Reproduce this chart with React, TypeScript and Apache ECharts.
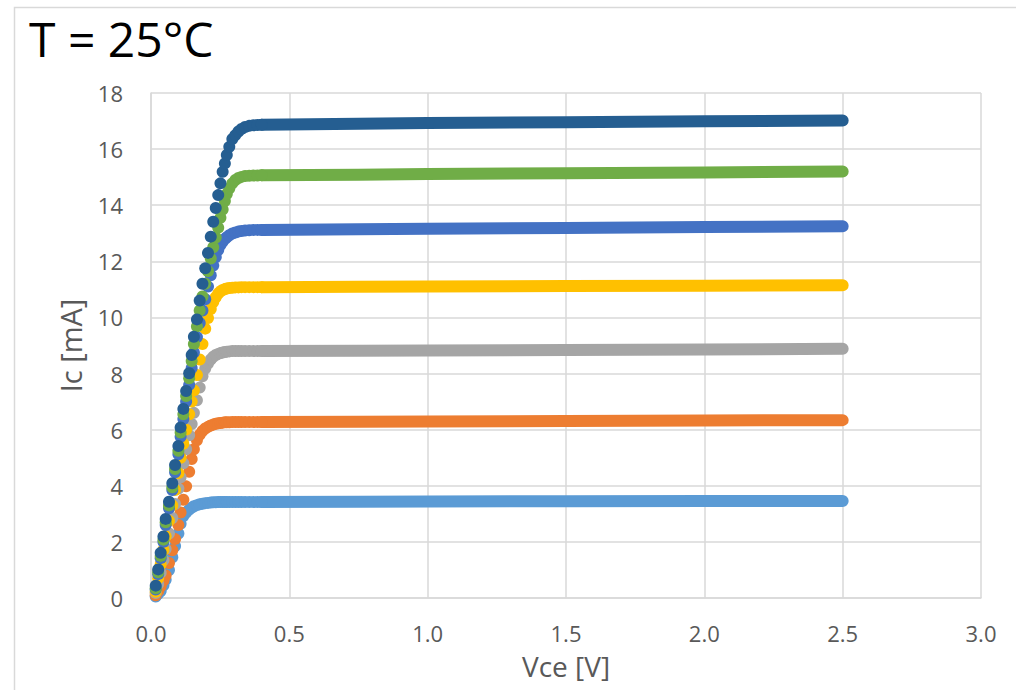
import React, { useEffect, useRef } from "react";
import * as echarts from "echarts";

// Collector-emitter sweep points in the saturation/knee region (V)
const VCE_RISE = [
  0.017, 0.026, 0.035, 0.045, 0.053, 0.065, 0.077, 0.087, 0.099, 0.107,
  0.117, 0.127, 0.138, 0.147, 0.155, 0.166, 0.176, 0.186, 0.196, 0.206,
  0.216, 0.225, 0.234, 0.243, 0.251, 0.259, 0.267, 0.274, 0.283, 0.294,
  0.305, 0.316, 0.327, 0.34, 0.355, 0.37, 0.385, 0.4,
];

// Collector current (mA) at each VCE_RISE point, one array per base-current step
const IC_RISE_1 = [
  0.05, 0.15, 0.25, 0.45, 0.65, 1.0, 1.45, 1.85, 2.3, 2.65,
  2.92, 3.05, 3.15, 3.22, 3.27, 3.31, 3.34, 3.36, 3.38, 3.39,
  3.4, 3.41, 3.41, 3.42, 3.42, 3.42, 3.42, 3.42, 3.42, 3.42,
  3.42, 3.42, 3.42, 3.42, 3.42, 3.42, 3.42, 3.42,
];
const IC_RISE_2 = [
  0.1, 0.25, 0.42, 0.62, 0.8, 1.25, 1.7, 2.1, 2.6, 3.05,
  3.5, 3.98, 4.5, 4.95, 5.3, 5.62, 5.82, 5.95, 6.04, 6.1,
  6.15, 6.18, 6.21, 6.23, 6.24, 6.25, 6.26, 6.26, 6.26, 6.27,
  6.27, 6.27, 6.27, 6.27, 6.27, 6.27, 6.27, 6.27,
];
const IC_RISE_3 = [
  0.18, 0.5, 0.9, 1.35, 1.75, 2.3, 2.85, 3.35, 3.9, 4.3,
  4.8, 5.3, 5.8, 6.2, 6.6, 7.05, 7.5, 7.9, 8.18, 8.36,
  8.5, 8.6, 8.66, 8.7, 8.73, 8.75, 8.77, 8.78, 8.79, 8.8,
  8.8, 8.8, 8.8, 8.8, 8.8, 8.8, 8.8, 8.8,
];
const IC_RISE_4 = [
  0.22, 0.7, 1.2, 1.72, 2.2, 2.75, 3.3, 3.85, 4.45, 5.0,
  5.5, 6.0, 6.55, 7.0, 7.4, 7.95, 8.5, 9.05, 9.6, 9.98,
  10.3, 10.55, 10.72, 10.85, 10.93, 10.98, 11.01, 11.03, 11.05, 11.06,
  11.07, 11.07, 11.08, 11.08, 11.08, 11.08, 11.08, 11.08,
];
const IC_RISE_5 = [
  0.3, 0.85, 1.42, 2.0, 2.6, 3.2, 3.85, 4.48, 5.12, 5.75,
  6.38, 7.0, 7.6, 8.2, 8.75, 9.3, 9.8, 10.25, 10.65, 11.1,
  11.5, 11.85, 12.15, 12.4, 12.58, 12.7, 12.8, 12.86, 12.93, 12.99,
  13.03, 13.06, 13.08, 13.1, 13.11, 13.12, 13.12, 13.12,
];
const IC_RISE_6 = [
  0.35, 0.92, 1.5, 2.08, 2.7, 3.3, 3.95, 4.6, 5.25, 5.9,
  6.55, 7.2, 7.83, 8.45, 9.05, 9.68, 10.25, 10.75, 11.2, 11.65,
  12.1, 12.5, 12.85, 13.2, 13.55, 13.85, 14.15, 14.4, 14.6, 14.78,
  14.9, 14.97, 15.01, 15.04, 15.05, 15.06, 15.06, 15.07,
];
const IC_RISE_7 = [
  0.44, 1.02, 1.61, 2.19, 2.82, 3.43, 4.09, 4.74, 5.42, 6.08,
  6.74, 7.38, 8.01, 8.66, 9.31, 9.93, 10.6, 11.2, 11.75, 12.3,
  12.88, 13.41, 13.9, 14.36, 14.78, 15.19, 15.49, 15.79, 16.08, 16.36,
  16.5, 16.63, 16.72, 16.79, 16.83, 16.85, 16.86, 16.87,
];

// Active region (V) and the matching collector currents (mA)
const VCE_FLAT = [0.4, 0.75, 1.0, 1.5, 2.0, 2.5];
const IC_FLAT_1 = [3.42, 3.43, 3.44, 3.45, 3.46, 3.46];
const IC_FLAT_2 = [6.27, 6.28, 6.29, 6.31, 6.33, 6.34];
const IC_FLAT_3 = [8.8, 8.81, 8.82, 8.84, 8.86, 8.88];
const IC_FLAT_4 = [11.08, 11.09, 11.1, 11.12, 11.13, 11.15];
const IC_FLAT_5 = [13.12, 13.14, 13.16, 13.19, 13.22, 13.25];
const IC_FLAT_6 = [15.07, 15.09, 15.11, 15.14, 15.17, 15.2];
const IC_FLAT_7 = [16.87, 16.9, 16.93, 16.96, 16.99, 17.02];

const CURVE_COLORS = ["#5B9BD5", "#ED7D31", "#A5A5A5", "#FFC000", "#4472C4", "#70AD47", "#255E91"];
const RISE = [IC_RISE_1, IC_RISE_2, IC_RISE_3, IC_RISE_4, IC_RISE_5, IC_RISE_6, IC_RISE_7];
const FLAT = [IC_FLAT_1, IC_FLAT_2, IC_FLAT_3, IC_FLAT_4, IC_FLAT_5, IC_FLAT_6, IC_FLAT_7];

const X_TICKS = { min: 0, max: 3, interval: 0.5 };
const Y_TICKS = { min: 0, max: 18, interval: 2 };

const TITLE = "T = 25°C";
const X_NAME = "Vce [V]";
const Y_NAME = "Ic [mA]";

const FONT = "'Open Sans', 'Noto Sans', sans-serif";
const DOT = 12;

export default function App() {
  const ref = useRef<HTMLDivElement>(null);

  useEffect(() => {
    if (!ref.current) return;
    const chart = echarts.init(ref.current, null, { renderer: "svg" });

    const series: any[] = [];
    CURVE_COLORS.forEach((color, i) => {
      // thick band for the flat (active) part of the curve
      series.push({
        type: "line",
        data: VCE_FLAT.map((v, k) => [v, FLAT[i][k]]),
        showSymbol: false,
        silent: true,
        lineStyle: { color, width: DOT, cap: "round", join: "round" },
        z: 2,
      });
      // individual measured points through saturation and the knee
      series.push({
        type: "scatter",
        data: VCE_RISE.map((v, k) => [v, RISE[i][k]]),
        symbol: "circle",
        symbolSize: DOT,
        silent: true,
        itemStyle: { color, opacity: 1 },
        z: 2,
      });
    });

    chart.setOption({
      animation: false,
      backgroundColor: "#ffffff",
      graphic: [
        {
          type: "rect",
          shape: { x: 14.5, y: 7.5, width: 1100, height: 800 },
          style: { fill: "none", stroke: "#d9d9d9", lineWidth: 1.5 },
          silent: true,
        },
        {
          type: "text",
          left: 29,
          top: 14,
          style: { text: TITLE, font: `48px ${FONT}`, fill: "#000000" },
          silent: true,
        },
      ],
      grid: { left: 151, right: 35, top: 93, bottom: 92, containLabel: false },
      xAxis: {
        type: "value",
        min: X_TICKS.min,
        max: X_TICKS.max,
        interval: X_TICKS.interval,
        name: X_NAME,
        nameLocation: "middle",
        nameGap: 54,
        nameTextStyle: { fontFamily: FONT, fontSize: 28, color: "#595959" },
        axisLine: { show: true, lineStyle: { color: "#d9d9d9", width: 1.5 } },
        axisTick: { show: false },
        axisLabel: {
          fontFamily: FONT,
          fontSize: 22,
          color: "#595959",
          margin: 24,
          formatter: (v: number) => v.toFixed(1),
        },
        splitLine: { show: true, lineStyle: { color: "#d9d9d9", width: 1.5 } },
      },
      yAxis: {
        type: "value",
        min: Y_TICKS.min,
        max: Y_TICKS.max,
        interval: Y_TICKS.interval,
        name: Y_NAME,
        nameLocation: "middle",
        nameGap: 66,
        nameTextStyle: { fontFamily: FONT, fontSize: 29, color: "#595959" },
        axisLine: { show: true, lineStyle: { color: "#d9d9d9", width: 1.5 } },
        axisTick: { show: false },
        axisLabel: { fontFamily: FONT, fontSize: 22, color: "#595959", margin: 28 },
        splitLine: { show: true, lineStyle: { color: "#d9d9d9", width: 1.5 } },
      },
      series,
    });

    return () => chart.dispose();
  }, []);

  return (
    <div
      ref={ref}
      style={{ position: "fixed", left: 0, top: 0, width: 1016, height: 690, background: "#fff" }}
    />
  );
}
